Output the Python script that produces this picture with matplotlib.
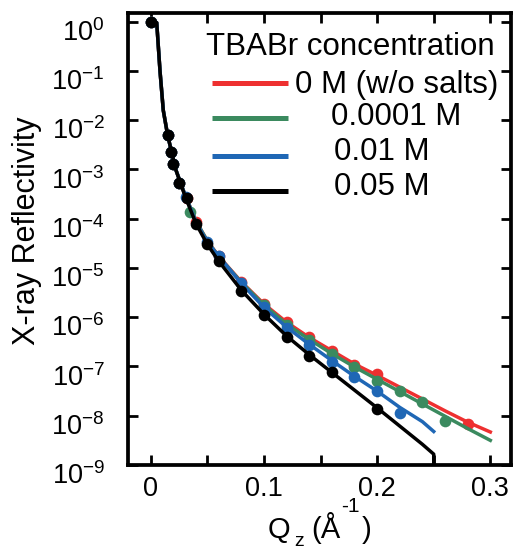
import matplotlib
matplotlib.use('Agg')
import matplotlib.pyplot as plt
import matplotlib.transforms as mtransforms
import numpy as np

plt.rcParams['font.family'] = ['Liberation Sans', 'DejaVu Sans']
plt.rcParams['mathtext.default'] = 'regular'
plt.rcParams['axes.unicode_minus'] = False

# series info
labels = ['0 M (w/o salts)', '0.0001 M', '0.01 M', '0.05 M']
colors = ['#ee3030', '#3b8a5f', '#1f67b5', '#000000']
legend_title = 'TBABr concentration'

# measured points (Q in 1/A, log10 R)
q_red = [0.0, 0.015, 0.0177, 0.0194, 0.025, 0.0318, 0.04, 0.06, 0.08, 0.10,
         0.12, 0.14, 0.16, 0.18, 0.20, 0.28]
r_red = [0.0, -2.31, -2.65, -2.88, -3.27, -3.57, -4.06, -4.75, -5.28, -5.74,
         -6.10, -6.41, -6.68, -6.97, -7.16, -8.16]

q_green = [0.0, 0.015, 0.0177, 0.0194, 0.025, 0.0347, 0.10, 0.12, 0.14, 0.16,
           0.18, 0.20, 0.22, 0.24, 0.26]
r_green = [0.0, -2.31, -2.65, -2.88, -3.27, -3.86, -5.76, -6.16, -6.46, -6.75,
           -7.02, -7.29, -7.50, -7.73, -8.11]

q_blue = [0.0, 0.015, 0.0177, 0.0194, 0.025, 0.0315, 0.05, 0.06, 0.08, 0.10,
          0.12, 0.14, 0.16, 0.18, 0.20, 0.22]
r_blue = [0.0, -2.31, -2.65, -2.88, -3.27, -3.56, -4.47, -4.76, -5.31, -5.80,
          -6.22, -6.56, -6.90, -7.22, -7.50, -7.94]

q_black = [0.0, 0.015, 0.0177, 0.0194, 0.025, 0.0318, 0.04, 0.05, 0.06, 0.08,
           0.10, 0.12, 0.14, 0.16, 0.20]
r_black = [0.0, -2.31, -2.65, -2.88, -3.27, -3.58, -4.10, -4.52, -4.86, -5.46,
           -5.95, -6.41, -6.78, -7.12, -7.86]

# fit curves (log10 R)
qf = [0.0, 0.0053, 0.0082, 0.0111, 0.015, 0.0221, 0.03, 0.04, 0.05, 0.06, 0.08,
      0.10, 0.12, 0.14, 0.16, 0.18, 0.20, 0.22, 0.24, 0.26, 0.28, 0.30]
fit_red = [0.0, -0.02, -1.0, -1.8, -2.31, -3.0, -3.50, -4.05, -4.45, -4.76, -5.28,
           -5.73, -6.10, -6.41, -6.68, -6.95, -7.18, -7.42, -7.66, -7.90, -8.13, -8.33]
fit_green = [0.0, -0.02, -1.0, -1.8, -2.31, -3.0, -3.50, -4.05, -4.45, -4.77, -5.29,
             -5.75, -6.14, -6.45, -6.74, -7.01, -7.26, -7.51, -7.76, -8.01, -8.26, -8.50]
qf_blue = [0.0, 0.0053, 0.0082, 0.0111, 0.015, 0.0221, 0.03, 0.04, 0.05, 0.06, 0.08,
           0.10, 0.12, 0.14, 0.16, 0.18, 0.20, 0.22, 0.24, 0.25]
fit_blue = [0.0, -0.02, -1.0, -1.8, -2.31, -3.0, -3.50, -4.07, -4.47, -4.76, -5.31,
            -5.80, -6.20, -6.55, -6.88, -7.20, -7.50, -7.83, -8.12, -8.32]
qf_black = [0.0, 0.0053, 0.0082, 0.0111, 0.015, 0.0221, 0.03, 0.04, 0.05, 0.06, 0.08,
            0.10, 0.12, 0.14, 0.16, 0.18, 0.20, 0.22, 0.24, 0.25, 0.2501]
fit_black = [0.0, -0.02, -1.0, -1.8, -2.31, -3.0, -3.52, -4.10, -4.52, -4.86, -5.45,
             -5.94, -6.38, -6.76, -7.12, -7.48, -7.84, -8.21, -8.58, -8.78, -10.0]

pts = [(q_red, r_red), (q_green, r_green), (q_blue, r_blue), (q_black, r_black)]
fits = [(qf, fit_red), (qf, fit_green), (qf_blue, fit_blue), (qf_black, fit_black)]

W, H = 514, 552
fig = plt.figure(figsize=(W / 100, H / 100), dpi=100)

def fx(px):
    return px / W

def fy(py):
    return 1 - py / H

ax = fig.add_axes([fx(128.3), fy(465), fx(510.7) - fx(128.3), fy(13) - fy(465)])

for i in range(4):
    qq, ff = fits[i]
    ax.plot(qq, 10 ** np.array(ff), color=colors[i], lw=2.5, zorder=2 + 2 * i,
            solid_joinstyle='round')
    qp, rp = pts[i]
    ax.plot(qp, 10 ** np.array(rp), 'o', color=colors[i], ms=8.4, mec='none',
            zorder=3 + 2 * i)

ax.set_yscale('log')
ax.set_xlim(-0.0198, 0.318)
ax.set_ylim(1e-9, 1.5)
ax.set_yticks([10.0 ** k for k in range(-9, 1)])
ax.yaxis.set_minor_locator(matplotlib.ticker.NullLocator())
ax.set_xticks([0, 0.1, 0.2, 0.3])
ax.set_xticklabels(['0', '0.1', '0.2', '0.3'])
ax.set_xticks([0.05, 0.15, 0.25], minor=True)

ax.tick_params(which='both', direction='in', top=True, right=True, length=7,
               width=2)
ax.tick_params(axis='y', labelsize=19.5, pad=17)
ax.tick_params(axis='x', labelsize=19.5, pad=8)
for s in ax.spines.values():
    s.set_linewidth(2.7)

# shift y tick labels down a little, as in the original
off = mtransforms.ScaledTranslation(0, -6 / 72, fig.dpi_scale_trans)
for lab in ax.get_yticklabels():
    lab.set_transform(lab.get_transform() + off)

ax.set_ylabel('X-ray Reflectivity', fontsize=22)
ax.yaxis.set_label_coords(-0.225, 0.518)

# x label pieces
fig.text(fx(268), fy(538), 'Q', fontsize=21, va='baseline')
fig.text(fx(294), fy(546), 'z', fontsize=14, va='baseline')
fig.text(fx(311), fy(538), '(Å', fontsize=21, va='baseline')
fig.text(fx(341), fy(512), '-1', fontsize=15, va='baseline')
fig.text(fx(362), fy(538), ')', fontsize=21, va='baseline')

# legend
tr = ax.transAxes
def axx(px):
    return (px - 128.3) / (510.7 - 128.3)

def axy(py):
    return (465 - py) / (465 - 13)

ax.text(axx(206), axy(55), legend_title, fontsize=22.5, va='baseline',
        transform=tr)
row_y = [83.3, 118.3, 155.7, 190.7]
base_y = [93.3, 125, 160, 195]
lab_x = [295, 331, 333.5, 333.5]
for i in range(4):
    ax.plot([axx(212), axx(288)], [axy(row_y[i])] * 2, color=colors[i], lw=3.6,
            transform=tr, solid_capstyle='butt', clip_on=False)
    ax.text(axx(lab_x[i]), axy(base_y[i]), labels[i], fontsize=22.5,
            va='baseline', transform=tr)

fig.savefig('out.png', dpi=100)
